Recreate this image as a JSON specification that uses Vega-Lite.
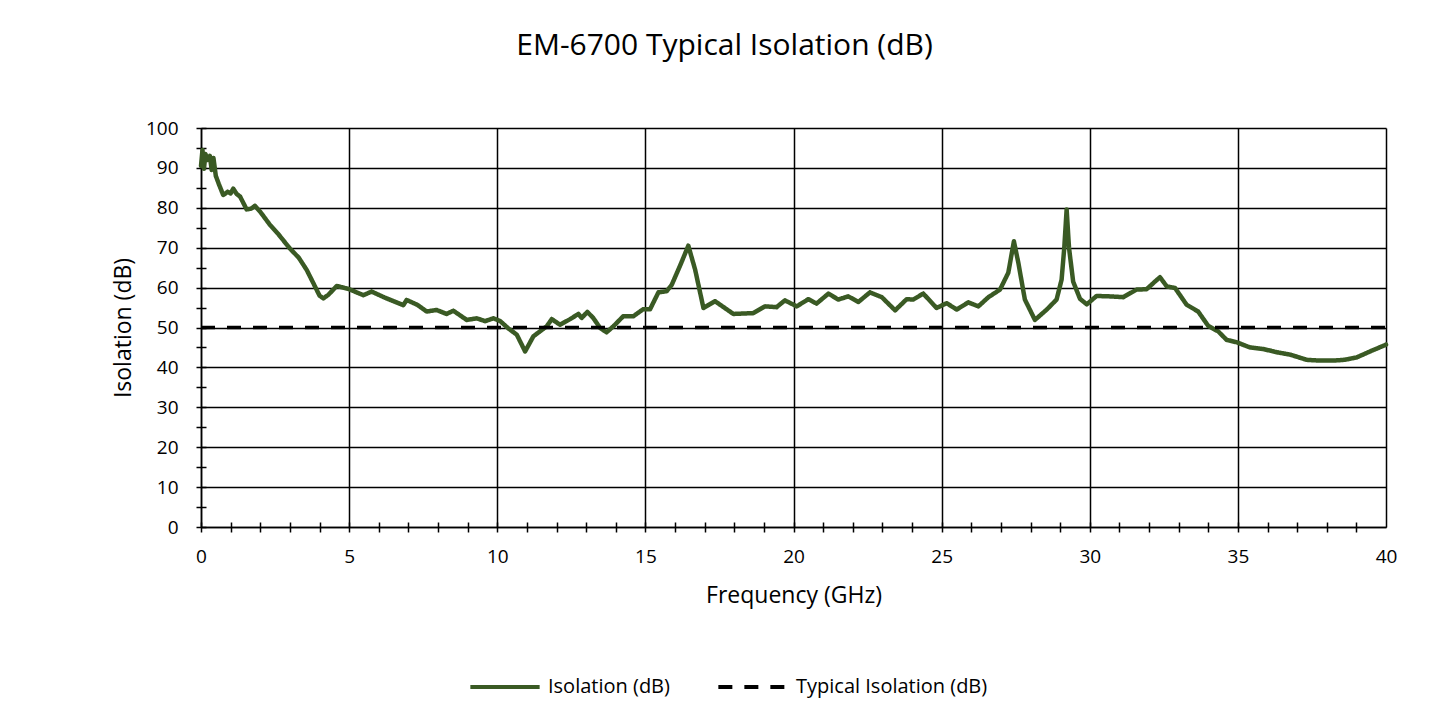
{
  "$schema": "https://vega.github.io/schema/vega-lite/v6.json",
  "width": 1185,
  "height": 399,
  "autosize": {"type": "none"},
  "padding": {"left": 201, "top": 128, "right": 63, "bottom": 194},
  "background": "white",
  "title": {
    "text": "EM-6700 Typical Isolation (dB)",
    "font": "Open Sans",
    "fontSize": 30,
    "fontWeight": "normal",
    "color": "#000000",
    "anchor": "middle",
    "frame": "group",
    "dx": -69,
    "offset": 58
  },
  "datasets": {
    "iso": [
      {"freq": 0.0, "isolation": 90.5, "series": "Isolation (dB)"},
      {"freq": 0.05, "isolation": 94.5, "series": "Isolation (dB)"},
      {"freq": 0.1, "isolation": 89.8, "series": "Isolation (dB)"},
      {"freq": 0.15, "isolation": 93.5, "series": "Isolation (dB)"},
      {"freq": 0.22, "isolation": 92.0, "series": "Isolation (dB)"},
      {"freq": 0.3, "isolation": 93.0, "series": "Isolation (dB)"},
      {"freq": 0.36, "isolation": 89.5, "series": "Isolation (dB)"},
      {"freq": 0.42, "isolation": 92.5, "series": "Isolation (dB)"},
      {"freq": 0.5, "isolation": 88.0, "series": "Isolation (dB)"},
      {"freq": 0.6, "isolation": 86.0, "series": "Isolation (dB)"},
      {"freq": 0.75, "isolation": 83.2, "series": "Isolation (dB)"},
      {"freq": 0.9, "isolation": 84.0, "series": "Isolation (dB)"},
      {"freq": 1.0, "isolation": 83.6, "series": "Isolation (dB)"},
      {"freq": 1.09, "isolation": 84.8, "series": "Isolation (dB)"},
      {"freq": 1.2, "isolation": 83.5, "series": "Isolation (dB)"},
      {"freq": 1.32, "isolation": 82.8, "series": "Isolation (dB)"},
      {"freq": 1.54, "isolation": 79.6, "series": "Isolation (dB)"},
      {"freq": 1.7, "isolation": 79.8, "series": "Isolation (dB)"},
      {"freq": 1.82, "isolation": 80.5, "series": "Isolation (dB)"},
      {"freq": 2.0, "isolation": 79.0, "series": "Isolation (dB)"},
      {"freq": 2.33, "isolation": 75.7, "series": "Isolation (dB)"},
      {"freq": 2.6, "isolation": 73.5, "series": "Isolation (dB)"},
      {"freq": 3.0, "isolation": 69.8, "series": "Isolation (dB)"},
      {"freq": 3.3, "isolation": 67.5, "series": "Isolation (dB)"},
      {"freq": 3.57, "isolation": 64.4, "series": "Isolation (dB)"},
      {"freq": 3.8, "isolation": 61.0, "series": "Isolation (dB)"},
      {"freq": 4.0, "isolation": 58.0, "series": "Isolation (dB)"},
      {"freq": 4.13, "isolation": 57.3, "series": "Isolation (dB)"},
      {"freq": 4.3, "isolation": 58.2, "series": "Isolation (dB)"},
      {"freq": 4.58, "isolation": 60.4, "series": "Isolation (dB)"},
      {"freq": 5.0, "isolation": 59.6, "series": "Isolation (dB)"},
      {"freq": 5.48, "isolation": 58.1, "series": "Isolation (dB)"},
      {"freq": 5.76, "isolation": 59.0, "series": "Isolation (dB)"},
      {"freq": 6.2, "isolation": 57.5, "series": "Isolation (dB)"},
      {"freq": 6.83, "isolation": 55.6, "series": "Isolation (dB)"},
      {"freq": 6.94, "isolation": 56.9, "series": "Isolation (dB)"},
      {"freq": 7.3, "isolation": 55.7, "series": "Isolation (dB)"},
      {"freq": 7.62, "isolation": 54.0, "series": "Isolation (dB)"},
      {"freq": 7.95, "isolation": 54.4, "series": "Isolation (dB)"},
      {"freq": 8.29, "isolation": 53.4, "series": "Isolation (dB)"},
      {"freq": 8.52, "isolation": 54.2, "series": "Isolation (dB)"},
      {"freq": 8.97, "isolation": 51.9, "series": "Isolation (dB)"},
      {"freq": 9.31, "isolation": 52.3, "series": "Isolation (dB)"},
      {"freq": 9.59, "isolation": 51.6, "series": "Isolation (dB)"},
      {"freq": 9.87, "isolation": 52.3, "series": "Isolation (dB)"},
      {"freq": 10.1, "isolation": 51.6, "series": "Isolation (dB)"},
      {"freq": 10.37, "isolation": 49.8, "series": "Isolation (dB)"},
      {"freq": 10.66, "isolation": 48.2, "series": "Isolation (dB)"},
      {"freq": 10.94, "isolation": 44.0, "series": "Isolation (dB)"},
      {"freq": 11.22, "isolation": 47.8, "series": "Isolation (dB)"},
      {"freq": 11.67, "isolation": 50.3, "series": "Isolation (dB)"},
      {"freq": 11.84, "isolation": 52.1, "series": "Isolation (dB)"},
      {"freq": 12.12, "isolation": 50.7, "series": "Isolation (dB)"},
      {"freq": 12.46, "isolation": 52.1, "series": "Isolation (dB)"},
      {"freq": 12.74, "isolation": 53.4, "series": "Isolation (dB)"},
      {"freq": 12.85, "isolation": 52.4, "series": "Isolation (dB)"},
      {"freq": 13.04, "isolation": 53.9, "series": "Isolation (dB)"},
      {"freq": 13.24, "isolation": 52.4, "series": "Isolation (dB)"},
      {"freq": 13.47, "isolation": 49.9, "series": "Isolation (dB)"},
      {"freq": 13.69, "isolation": 48.8, "series": "Isolation (dB)"},
      {"freq": 13.92, "isolation": 50.3, "series": "Isolation (dB)"},
      {"freq": 14.25, "isolation": 52.8, "series": "Isolation (dB)"},
      {"freq": 14.59, "isolation": 52.8, "series": "Isolation (dB)"},
      {"freq": 14.93, "isolation": 54.6, "series": "Isolation (dB)"},
      {"freq": 15.16, "isolation": 54.6, "series": "Isolation (dB)"},
      {"freq": 15.44, "isolation": 58.8, "series": "Isolation (dB)"},
      {"freq": 15.72, "isolation": 59.1, "series": "Isolation (dB)"},
      {"freq": 15.89, "isolation": 60.7, "series": "Isolation (dB)"},
      {"freq": 16.2, "isolation": 66.0, "series": "Isolation (dB)"},
      {"freq": 16.45, "isolation": 70.5, "series": "Isolation (dB)"},
      {"freq": 16.68, "isolation": 64.5, "series": "Isolation (dB)"},
      {"freq": 16.96, "isolation": 54.9, "series": "Isolation (dB)"},
      {"freq": 17.35, "isolation": 56.6, "series": "Isolation (dB)"},
      {"freq": 17.97, "isolation": 53.4, "series": "Isolation (dB)"},
      {"freq": 18.64, "isolation": 53.6, "series": "Isolation (dB)"},
      {"freq": 19.04, "isolation": 55.3, "series": "Isolation (dB)"},
      {"freq": 19.43, "isolation": 55.1, "series": "Isolation (dB)"},
      {"freq": 19.71, "isolation": 56.8, "series": "Isolation (dB)"},
      {"freq": 20.11, "isolation": 55.3, "series": "Isolation (dB)"},
      {"freq": 20.5, "isolation": 57.1, "series": "Isolation (dB)"},
      {"freq": 20.78, "isolation": 56.0, "series": "Isolation (dB)"},
      {"freq": 21.18, "isolation": 58.5, "series": "Isolation (dB)"},
      {"freq": 21.51, "isolation": 57.0, "series": "Isolation (dB)"},
      {"freq": 21.85, "isolation": 57.8, "series": "Isolation (dB)"},
      {"freq": 22.19, "isolation": 56.4, "series": "Isolation (dB)"},
      {"freq": 22.58, "isolation": 58.8, "series": "Isolation (dB)"},
      {"freq": 22.98, "isolation": 57.6, "series": "Isolation (dB)"},
      {"freq": 23.43, "isolation": 54.3, "series": "Isolation (dB)"},
      {"freq": 23.82, "isolation": 57.1, "series": "Isolation (dB)"},
      {"freq": 24.04, "isolation": 57.0, "series": "Isolation (dB)"},
      {"freq": 24.38, "isolation": 58.5, "series": "Isolation (dB)"},
      {"freq": 24.83, "isolation": 54.9, "series": "Isolation (dB)"},
      {"freq": 25.17, "isolation": 56.1, "series": "Isolation (dB)"},
      {"freq": 25.51, "isolation": 54.5, "series": "Isolation (dB)"},
      {"freq": 25.9, "isolation": 56.3, "series": "Isolation (dB)"},
      {"freq": 26.24, "isolation": 55.3, "series": "Isolation (dB)"},
      {"freq": 26.58, "isolation": 57.6, "series": "Isolation (dB)"},
      {"freq": 26.97, "isolation": 59.5, "series": "Isolation (dB)"},
      {"freq": 27.25, "isolation": 63.7, "series": "Isolation (dB)"},
      {"freq": 27.44, "isolation": 71.6, "series": "Isolation (dB)"},
      {"freq": 27.59, "isolation": 66.2, "series": "Isolation (dB)"},
      {"freq": 27.81, "isolation": 57.0, "series": "Isolation (dB)"},
      {"freq": 28.15, "isolation": 51.9, "series": "Isolation (dB)"},
      {"freq": 28.55, "isolation": 54.5, "series": "Isolation (dB)"},
      {"freq": 28.88, "isolation": 57.0, "series": "Isolation (dB)"},
      {"freq": 29.05, "isolation": 62.0, "series": "Isolation (dB)"},
      {"freq": 29.14, "isolation": 70.0, "series": "Isolation (dB)"},
      {"freq": 29.22, "isolation": 79.6, "series": "Isolation (dB)"},
      {"freq": 29.3, "isolation": 70.0, "series": "Isolation (dB)"},
      {"freq": 29.44, "isolation": 61.5, "series": "Isolation (dB)"},
      {"freq": 29.67, "isolation": 57.2, "series": "Isolation (dB)"},
      {"freq": 29.9, "isolation": 55.8, "series": "Isolation (dB)"},
      {"freq": 30.23, "isolation": 57.9, "series": "Isolation (dB)"},
      {"freq": 30.68, "isolation": 57.8, "series": "Isolation (dB)"},
      {"freq": 31.13, "isolation": 57.6, "series": "Isolation (dB)"},
      {"freq": 31.58, "isolation": 59.5, "series": "Isolation (dB)"},
      {"freq": 31.92, "isolation": 59.6, "series": "Isolation (dB)"},
      {"freq": 32.2, "isolation": 61.5, "series": "Isolation (dB)"},
      {"freq": 32.37, "isolation": 62.6, "series": "Isolation (dB)"},
      {"freq": 32.6, "isolation": 60.3, "series": "Isolation (dB)"},
      {"freq": 32.88, "isolation": 59.9, "series": "Isolation (dB)"},
      {"freq": 33.27, "isolation": 55.7, "series": "Isolation (dB)"},
      {"freq": 33.66, "isolation": 54.0, "series": "Isolation (dB)"},
      {"freq": 34.0, "isolation": 50.4, "series": "Isolation (dB)"},
      {"freq": 34.34, "isolation": 49.0, "series": "Isolation (dB)"},
      {"freq": 34.62, "isolation": 46.9, "series": "Isolation (dB)"},
      {"freq": 34.96, "isolation": 46.3, "series": "Isolation (dB)"},
      {"freq": 35.41, "isolation": 45.0, "series": "Isolation (dB)"},
      {"freq": 35.86, "isolation": 44.6, "series": "Isolation (dB)"},
      {"freq": 36.31, "isolation": 43.8, "series": "Isolation (dB)"},
      {"freq": 36.76, "isolation": 43.2, "series": "Isolation (dB)"},
      {"freq": 37.32, "isolation": 41.9, "series": "Isolation (dB)"},
      {"freq": 37.77, "isolation": 41.7, "series": "Isolation (dB)"},
      {"freq": 38.22, "isolation": 41.7, "series": "Isolation (dB)"},
      {"freq": 38.6, "isolation": 41.9, "series": "Isolation (dB)"},
      {"freq": 39.01, "isolation": 42.5, "series": "Isolation (dB)"},
      {"freq": 39.46, "isolation": 44.0, "series": "Isolation (dB)"},
      {"freq": 40.0, "isolation": 45.7, "series": "Isolation (dB)"}
    ],
    "typ": [
      {"freq": 0, "isolation": 50, "series": "Typical Isolation (dB)"},
      {"freq": 40, "isolation": 50, "series": "Typical Isolation (dB)"}
    ]
  },
  "config": {
    "view": {"stroke": null},
    "axis": {
      "labelFont": "Open Sans",
      "titleFont": "Open Sans",
      "labelColor": "#000000",
      "titleColor": "#000000",
      "titleFontWeight": "normal"
    }
  },
  "layer": [
    {
      "data": {"name": "iso"},
      "mark": {"type": "line", "strokeWidth": 4.5, "strokeJoin": "round", "strokeCap": "round"},
      "encoding": {
        "x": {
          "field": "freq", "type": "quantitative",
          "scale": {"domain": [0, 40], "nice": false, "zero": false},
          "axis": {
            "orient": "bottom",
            "values": [0, 5, 10, 15, 20, 25, 30, 35, 40],
            "grid": true, "gridColor": "#000000", "gridWidth": 1.5, "gridOpacity": 1,
            "domain": true, "domainColor": "#000000", "domainWidth": 1.5,
            "ticks": false, "tickSize": 0,
            "labelFontSize": 19, "labelPadding": 20, "labelFlush": false, "labelOverlap": false,
            "title": "Frequency (GHz)", "titleFontSize": 23, "titlePadding": 18
          }
        },
        "y": {
          "field": "isolation", "type": "quantitative",
          "scale": {"domain": [0, 100], "nice": false},
          "axis": {
            "orient": "left",
            "values": [0, 10, 20, 30, 40, 50, 60, 70, 80, 90, 100],
            "grid": true, "gridColor": "#000000", "gridWidth": 1.5, "gridOpacity": 1,
            "domain": true, "domainColor": "#000000", "domainWidth": 1.5,
            "ticks": false, "tickSize": 0,
            "labelFontSize": 19, "labelPadding": 23, "labelFlush": false, "labelOverlap": false,
            "title": "Isolation (dB)", "titleFontSize": 23, "titlePadding": 10
          }
        },
        "color": {
          "field": "series", "type": "nominal",
          "scale": {"domain": ["Isolation (dB)", "Typical Isolation (dB)"], "range": ["#3a5a24", "#000000"]},
          "legend": {
            "title": null, "orient": "none", "legendX": 267, "legendY": 522, "direction": "horizontal",
            "symbolType": "stroke", "symbolSize": 4800, "symbolStrokeWidth": 4,
            "labelFont": "Open Sans", "labelFontSize": 20, "labelColor": "#000000", "labelOffset": 6,
            "columnPadding": 40, "labelLimit": 400
          }
        },
        "strokeDash": {
          "field": "series", "type": "nominal",
          "scale": {"domain": ["Isolation (dB)", "Typical Isolation (dB)"], "range": [[1, 0], [14, 12]]},
          "legend": {
            "title": null, "orient": "none", "legendX": 267, "legendY": 522, "direction": "horizontal",
            "symbolType": "stroke", "symbolSize": 4800, "symbolStrokeWidth": 4,
            "labelFont": "Open Sans", "labelFontSize": 20, "labelColor": "#000000", "labelOffset": 6,
            "columnPadding": 40, "labelLimit": 400
          }
        }
      }
    },
    {
      "data": {"name": "typ"},
      "mark": {"type": "line", "strokeWidth": 3.5},
      "encoding": {
        "x": {
          "field": "freq", "type": "quantitative",
          "scale": {"domain": [0, 40], "nice": false, "zero": false},
          "axis": {
            "orient": "bottom",
            "values": [0, 1, 2, 3, 4, 5, 6, 7, 8, 9, 10, 11, 12, 13, 14, 15, 16, 17, 18, 19, 20, 21, 22, 23, 24, 25, 26, 27, 28, 29, 30, 31, 32, 33, 34, 35, 36, 37, 38, 39],
            "grid": false, "domain": false, "labels": false, "ticks": true,
            "tickSize": 10, "tickColor": "#000000", "tickWidth": 1.5, "offset": -5, "title": null
          }
        },
        "y": {
          "field": "isolation", "type": "quantitative",
          "scale": {"domain": [0, 100], "nice": false},
          "axis": {
            "orient": "left",
            "values": [0, 5, 10, 15, 20, 25, 30, 35, 40, 45, 50, 55, 60, 65, 70, 75, 80, 85, 90, 95, 100],
            "grid": false, "domain": false, "labels": false, "ticks": true,
            "tickSize": 10, "tickColor": "#000000", "tickWidth": 1.5, "offset": -5, "title": null
          }
        },
        "color": {
          "field": "series", "type": "nominal",
          "scale": {"domain": ["Isolation (dB)", "Typical Isolation (dB)"], "range": ["#3a5a24", "#000000"]}
        },
        "strokeDash": {
          "field": "series", "type": "nominal",
          "scale": {"domain": ["Isolation (dB)", "Typical Isolation (dB)"], "range": [[1, 0], [14, 12]]}
        }
      }
    }
  ],
  "resolve": {"axis": {"x": "independent", "y": "independent"}}
}
